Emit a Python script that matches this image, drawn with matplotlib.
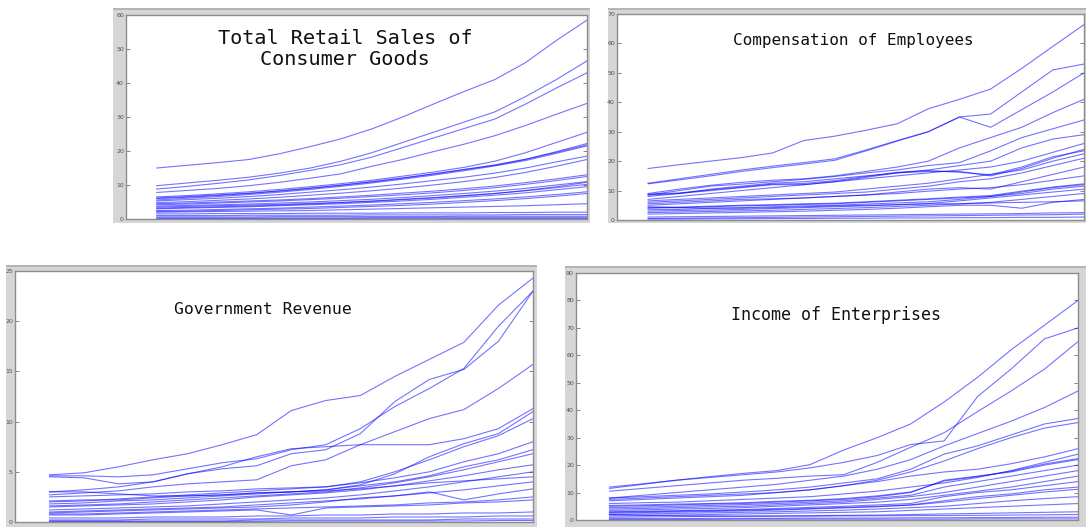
import numpy as np
import matplotlib
matplotlib.use("Agg")
import matplotlib.pyplot as plt
from matplotlib.patches import Rectangle

W, H = 1086, 527
years = np.arange(1, 16)

# Total Retail Sales of Consumer Goods
retail = [
    [15.0, 15.8, 16.6, 17.5, 19.2, 21.3, 23.6, 26.5, 30.0, 33.8, 37.5, 41.0, 46.0, 52.5, 58.5],
    [9.8, 10.6, 11.4, 12.3, 13.5, 15.0, 17.0, 19.5, 22.5, 25.5, 28.5, 31.5, 36.0, 41.0, 46.5],
    [8.8, 9.6, 10.5, 11.5, 12.8, 14.3, 16.0, 18.2, 21.0, 23.8, 26.6, 29.4, 33.8, 38.5, 43.0],
    [7.8, 8.4, 9.0, 9.8, 10.8, 12.0, 13.3, 15.5, 17.5, 19.8, 22.0, 24.5, 27.5, 30.8, 34.0],
    [6.5, 6.9, 7.4, 8.0, 8.7, 9.5, 10.4, 11.4, 12.6, 13.8, 15.2, 17.0, 19.5, 22.5, 25.5],
    [6.0, 6.4, 6.9, 7.5, 8.2, 9.0, 9.9, 10.9, 12.0, 13.2, 14.5, 15.8, 17.5, 19.8, 22.2],
    [6.2, 6.6, 7.1, 7.6, 8.3, 9.1, 10.0, 11.0, 12.1, 13.3, 14.6, 15.9, 17.6, 19.6, 21.8],
    [5.6, 6.1, 6.6, 7.2, 7.9, 8.7, 9.6, 10.6, 11.7, 12.9, 14.2, 15.6, 17.2, 19.3, 21.5],
    [5.3, 5.7, 6.1, 6.6, 7.2, 7.9, 8.6, 9.4, 10.3, 11.3, 12.3, 13.5, 15.0, 16.8, 18.5],
    [4.8, 5.1, 5.5, 5.9, 6.4, 7.0, 7.6, 8.3, 9.1, 10.0, 11.0, 12.2, 13.7, 15.5, 17.5],
    [4.5, 4.7, 5.0, 5.3, 5.6, 6.0, 6.5, 7.0, 7.6, 8.2, 8.9, 9.7, 10.7, 11.8, 13.0],
    [4.2, 4.4, 4.7, 5.0, 5.3, 5.7, 6.1, 6.6, 7.1, 7.7, 8.4, 9.2, 10.2, 11.3, 12.5],
    [3.8, 4.0, 4.2, 4.4, 4.7, 5.0, 5.4, 5.8, 6.3, 6.9, 7.5, 8.2, 9.0, 10.0, 11.0],
    [3.2, 3.4, 3.6, 3.8, 4.1, 4.4, 4.8, 5.2, 5.7, 6.2, 6.8, 7.5, 8.4, 9.5, 10.8],
    [3.5, 3.7, 3.9, 4.1, 4.3, 4.6, 4.9, 5.3, 5.8, 6.3, 6.9, 7.5, 8.3, 9.2, 10.2],
    [3.0, 3.2, 3.4, 3.6, 3.9, 4.2, 4.5, 4.9, 5.3, 5.8, 6.4, 7.0, 7.7, 8.6, 9.5],
    [2.5, 2.6, 2.8, 3.0, 3.2, 3.5, 3.8, 4.1, 4.5, 4.9, 5.4, 5.9, 6.5, 7.2, 8.0],
    [2.2, 2.3, 2.5, 2.7, 2.9, 3.1, 3.4, 3.7, 4.0, 4.4, 4.9, 5.4, 6.0, 6.7, 7.5],
    [2.0, 2.1, 2.2, 2.3, 2.4, 2.5, 2.7, 2.9, 3.1, 3.3, 3.5, 3.7, 3.9, 4.2, 4.5],
    [1.5, 1.5, 1.6, 1.6, 1.6, 1.7, 1.7, 1.7, 1.8, 1.8, 1.8, 1.9, 1.9, 2.0, 2.0],
    [1.0, 1.0, 1.0, 1.1, 1.1, 1.1, 1.1, 1.2, 1.2, 1.2, 1.2, 1.2, 1.3, 1.3, 1.3],
    [0.6, 0.6, 0.6, 0.6, 0.7, 0.7, 0.7, 0.7, 0.7, 0.7, 0.8, 0.8, 0.8, 0.8, 0.8],
    [0.3, 0.3, 0.3, 0.3, 0.3, 0.3, 0.3, 0.4, 0.4, 0.4, 0.4, 0.4, 0.4, 0.4, 0.4],
    [0.1, 0.1, 0.1, 0.1, 0.1, 0.1, 0.1, 0.1, 0.1, 0.1, 0.15, 0.15, 0.15, 0.15, 0.15],
]

# Compensation of Employees
compensation = [
    [17.5, 18.8, 20.0, 21.2, 22.8, 27.0, 28.5, 30.5, 32.7, 37.8, 41.0, 44.5, 51.5, 59.0, 66.4],
    [12.5, 14.0, 15.5, 17.0, 18.3, 19.5, 20.8, 23.8, 27.0, 30.0, 35.0, 36.0, 43.5, 51.0, 53.0],
    [12.3, 13.6, 15.0, 16.5, 17.8, 19.0, 20.3, 23.5, 26.8, 30.0, 35.0, 31.5, 37.5, 43.5, 50.0],
    [9.0, 10.5, 11.8, 12.8, 13.5, 14.0, 15.0, 16.5, 18.0, 20.0, 24.5, 28.0, 31.5, 36.5, 41.0],
    [8.5, 10.0, 11.5, 12.2, 13.0, 13.8, 14.8, 16.0, 17.0, 18.5, 19.5, 23.5, 28.0, 31.0, 34.0],
    [8.0, 9.0, 10.5, 11.5, 12.5, 13.0, 14.0, 15.0, 16.0, 17.0, 18.5, 20.0, 24.5, 27.5, 29.0],
    [7.0, 8.0, 9.0, 10.0, 11.0, 12.0, 13.0, 14.0, 15.0, 16.0, 17.0, 18.0, 20.0, 23.0, 26.0],
    [8.5, 9.0, 10.0, 11.0, 12.0, 12.0, 13.0, 14.5, 16.0, 16.5, 16.5, 15.0, 17.5, 21.0, 24.0],
    [8.8, 9.2, 10.2, 11.2, 12.2, 12.4, 13.4, 14.8, 16.2, 16.8, 16.2, 15.4, 18.0, 21.5, 23.5],
    [6.5, 7.0, 7.5, 8.0, 8.5, 9.0, 9.5, 10.5, 11.5, 12.5, 14.0, 15.5, 17.0, 20.0, 22.5],
    [6.0, 6.5, 7.0, 7.5, 8.0, 8.5, 9.0, 9.5, 10.5, 11.5, 13.0, 14.0, 16.0, 18.5, 21.0],
    [5.0, 5.5, 6.0, 6.5, 7.0, 7.5, 8.0, 8.5, 9.5, 10.5, 11.0, 10.5, 13.0, 15.5, 18.0],
    [5.5, 6.0, 6.5, 7.0, 7.2, 7.5, 8.0, 8.5, 9.0, 9.8, 10.5, 11.0, 12.0, 13.5, 15.0],
    [4.0, 4.2, 4.5, 4.8, 5.0, 5.3, 5.5, 6.0, 6.5, 7.0, 7.5, 8.0, 9.5, 11.0, 12.0],
    [4.2, 4.4, 4.7, 5.0, 5.2, 5.5, 5.7, 6.2, 6.7, 7.2, 7.8, 8.3, 9.8, 11.2, 12.3],
    [3.5, 3.6, 4.0, 4.2, 4.5, 4.8, 5.0, 5.4, 5.8, 6.2, 7.0, 8.0, 9.0, 10.5, 11.5],
    [3.0, 3.2, 3.4, 3.6, 3.9, 4.2, 4.5, 4.8, 5.2, 5.6, 6.5, 7.5, 8.5, 9.5, 10.5],
    [2.5, 2.7, 2.9, 3.1, 3.3, 3.6, 3.9, 4.2, 4.6, 5.0, 5.5, 6.0, 7.0, 8.0, 9.0],
    [2.0, 2.2, 2.4, 2.6, 2.8, 3.0, 3.3, 3.6, 4.0, 4.5, 5.0, 5.0, 4.0, 6.0, 7.0],
    [4.5, 4.2, 4.0, 4.0, 4.2, 4.5, 4.8, 5.0, 5.2, 5.5, 5.5, 5.8, 6.0, 6.2, 6.5],
    [1.0, 1.1, 1.2, 1.3, 1.4, 1.5, 1.6, 1.7, 1.8, 1.9, 2.0, 2.1, 2.2, 2.4, 2.5],
    [0.5, 0.6, 0.7, 0.8, 0.9, 1.0, 1.1, 1.2, 1.3, 1.4, 1.5, 1.6, 1.7, 1.8, 2.0],
    [0.3, 0.3, 0.4, 0.4, 0.5, 0.5, 0.6, 0.6, 0.7, 0.7, 0.8, 0.8, 0.9, 0.9, 1.0],
]

# Government Revenue
revenue = [
    [4.7, 4.9, 5.5, 6.2, 6.8, 7.7, 8.7, 11.1, 12.1, 12.6, 14.5, 16.2, 17.9, 21.6, 24.3],
    [4.5, 4.4, 3.8, 4.0, 4.8, 5.3, 5.6, 6.8, 7.2, 8.8, 12.0, 14.2, 15.2, 18.0, 23.0],
    [4.6, 4.6, 4.5, 4.7, 5.3, 5.9, 6.3, 7.2, 7.7, 9.3, 11.5, 13.3, 15.3, 19.5, 23.0],
    [2.7, 2.9, 3.1, 3.5, 3.8, 4.0, 4.2, 5.6, 6.2, 7.7, 9.0, 10.3, 11.2, 13.3, 15.7],
    [3.0, 3.2, 3.5, 4.0, 4.8, 5.5, 6.5, 7.3, 7.5, 7.7, 7.7, 7.7, 8.3, 9.3, 11.3],
    [2.1, 2.2, 2.2, 2.4, 2.6, 2.7, 2.9, 3.0, 3.2, 3.7, 4.8, 6.5, 7.8, 8.8, 11.0],
    [2.5, 2.6, 2.7, 2.8, 3.0, 3.1, 3.3, 3.4, 3.5, 4.0, 5.0, 6.2, 7.5, 8.6, 10.3],
    [2.0, 2.1, 2.3, 2.5, 2.7, 2.9, 3.1, 3.3, 3.5, 3.9, 4.4, 5.0, 6.0, 6.8, 8.0],
    [1.8, 1.9, 2.1, 2.2, 2.4, 2.6, 2.8, 3.0, 3.2, 3.6, 4.0, 4.6, 5.5, 6.2, 7.2],
    [1.6, 1.7, 1.8, 2.0, 2.2, 2.4, 2.6, 2.8, 3.0, 3.4, 3.9, 4.5, 5.2, 6.0, 6.8],
    [1.5, 1.6, 1.7, 1.8, 2.0, 2.2, 2.5, 2.7, 2.9, 3.2, 3.6, 4.1, 4.6, 5.2, 5.7],
    [1.2, 1.3, 1.4, 1.5, 1.6, 1.8, 2.0, 2.2, 2.4, 2.7, 3.1, 3.5, 4.0, 4.5, 5.0],
    [3.0, 3.0, 2.8, 2.6, 2.6, 2.7, 2.9, 3.0, 3.1, 3.3, 3.6, 3.9, 4.1, 4.3, 4.5],
    [1.0, 1.1, 1.2, 1.3, 1.4, 1.5, 1.7, 1.9, 2.1, 2.3, 2.6, 2.9, 3.2, 3.6, 4.0],
    [0.9, 1.0, 1.1, 1.2, 1.3, 1.4, 1.5, 1.7, 2.0, 2.4, 2.6, 3.0, 2.2, 2.8, 3.3],
    [0.8, 0.8, 0.9, 1.0, 1.1, 1.2, 1.3, 1.4, 1.5, 1.6, 1.7, 1.9, 2.0, 2.2, 2.5],
    [0.7, 0.7, 0.8, 0.9, 1.0, 1.1, 1.2, 0.7, 1.4, 1.5, 1.6, 1.7, 1.9, 2.0, 2.2],
    [0.4, 0.4, 0.4, 0.5, 0.5, 0.5, 0.6, 0.6, 0.7, 0.7, 0.8, 0.8, 0.9, 0.9, 1.0],
    [0.2, 0.2, 0.2, 0.3, 0.3, 0.3, 0.3, 0.4, 0.4, 0.4, 0.5, 0.5, 0.5, 0.6, 0.6],
    [0.1, 0.1, 0.1, 0.1, 0.1, 0.1, 0.2, 0.2, 0.2, 0.2, 0.2, 0.2, 0.3, 0.3, 0.3],
    [0.05, 0.05, 0.05, 0.05, 0.05, 0.05, 0.05, 0.1, 0.1, 0.1, 0.1, 0.1, 0.1, 0.15, 0.15],
]

# Income of Enterprises
income = [
    [12.0, 13.2, 14.5, 15.8, 17.0, 18.0, 20.2, 25.5, 30.0, 35.0, 43.0, 52.0, 62.0, 71.0, 80.0],
    [11.5, 13.0, 14.5, 15.5, 16.5, 17.5, 19.0, 21.0, 23.5, 27.5, 28.8, 45.0, 55.0, 66.0, 70.0],
    [10.5, 11.5, 12.5, 13.5, 14.5, 15.2, 16.0, 16.5, 21.0, 26.5, 31.8, 39.5, 47.0, 55.0, 65.0],
    [8.0, 9.0, 10.0, 11.0, 12.0, 13.0, 14.5, 16.0, 18.5, 22.0, 27.0, 31.5, 36.0, 41.0, 47.0],
    [8.0, 8.5, 9.0, 9.5, 10.2, 11.0, 12.0, 13.5, 15.0, 18.5, 24.0, 27.0, 31.0, 35.0, 37.0],
    [7.5, 8.0, 8.5, 9.0, 9.5, 10.0, 11.0, 12.5, 14.5, 17.5, 21.5, 26.0, 30.0, 33.5, 35.5],
    [7.0, 7.5, 8.0, 8.5, 9.0, 10.0, 11.0, 12.5, 14.0, 16.0, 17.5, 18.5, 20.5, 23.0, 26.0],
    [6.0, 6.3, 6.5, 7.0, 7.5, 8.0, 8.5, 9.5, 10.5, 12.0, 13.5, 15.5, 18.0, 21.0, 24.0],
    [5.0, 5.2, 5.5, 5.8, 6.0, 6.5, 7.0, 7.5, 8.5, 10.0, 14.5, 16.0, 17.5, 20.0, 22.0],
    [5.3, 5.5, 5.8, 6.0, 6.3, 6.8, 7.2, 7.8, 8.8, 10.2, 14.2, 15.8, 17.8, 20.4, 22.4],
    [4.5, 4.7, 5.0, 5.3, 5.6, 6.0, 6.5, 7.0, 8.0, 9.0, 12.0, 14.0, 16.0, 18.0, 20.0],
    [4.0, 4.2, 4.5, 4.8, 5.0, 5.5, 6.0, 6.5, 7.5, 8.5, 10.0, 12.0, 14.0, 16.0, 18.0],
    [3.5, 3.7, 4.0, 4.2, 4.5, 5.0, 5.5, 6.0, 6.5, 7.5, 9.0, 10.5, 12.0, 14.0, 16.0],
    [3.0, 3.2, 3.4, 3.6, 3.8, 4.2, 4.6, 5.0, 5.5, 6.0, 8.5, 10.0, 11.0, 12.5, 14.0],
    [2.5, 2.7, 2.9, 3.1, 3.3, 3.6, 4.0, 4.4, 4.8, 5.5, 7.0, 8.5, 9.5, 11.0, 12.0],
    [2.8, 3.0, 3.2, 3.4, 3.6, 3.9, 4.2, 4.6, 5.0, 5.4, 6.5, 7.8, 9.0, 10.2, 11.2],
    [2.0, 2.2, 2.4, 2.6, 2.8, 3.0, 3.3, 3.6, 4.0, 4.5, 5.0, 6.0, 7.0, 7.8, 8.5],
    [1.5, 1.6, 1.8, 2.0, 2.2, 2.4, 2.6, 2.8, 3.0, 3.5, 4.0, 4.5, 5.0, 5.5, 6.0],
    [1.0, 1.1, 1.2, 1.3, 1.4, 1.5, 1.6, 1.7, 1.8, 2.0, 2.2, 2.4, 2.6, 2.8, 3.0],
    [2.0, 1.8, 1.6, 1.5, 1.4, 1.4, 1.4, 1.5, 1.5, 1.6, 1.6, 1.7, 1.8, 1.9, 2.0],
    [0.5, 0.5, 0.5, 0.6, 0.6, 0.6, 0.7, 0.7, 0.7, 0.8, 0.8, 0.9, 0.9, 1.0, 1.0],
    [0.2, 0.2, 0.2, 0.2, 0.3, 0.3, 0.3, 0.3, 0.3, 0.3, 0.3, 0.4, 0.4, 0.4, 0.4],
]

titles = ["Total Retail Sales of\nConsumer Goods", "Compensation of Employees",
          "Government Revenue", "Income of Enterprises"]
ymax = [60, 70, 25, 90]
ystep = [10, 10, 5, 10]

# pixel boxes: gray window (x0, y0, x1, y1) and axes (x0, y0, x1, y1)
windows = [(113, 8, 590, 223), (608, 8, 1086, 223), (6, 265, 537, 527), (565, 266, 1086, 527)]
axboxes = [(126, 15, 587, 219), (617, 14, 1084, 220), (15, 271, 533, 522), (576, 273, 1078, 520)]
title_pos = [(345, 49), (853, 41), (263, 310), (836, 315)]
title_size = [14.5, 11.5, 11.8, 12.0]

fig = plt.figure(figsize=(W / 100, H / 100), dpi=100)


def px(box):
    x0, y0, x1, y1 = box
    return [x0 / W, 1 - y1 / H, (x1 - x0) / W, (y1 - y0) / H]


for data, title, top, step, win, box, tp, ts in zip(
        [retail, compensation, revenue, income], titles, ymax, ystep,
        windows, axboxes, title_pos, title_size):
    l, b, w, h = px(win)
    fig.patches.append(Rectangle((l, b), w, h, transform=fig.transFigure,
                                 facecolor="#d6d6d6", edgecolor="none", zorder=-2))
    fig.patches.append(Rectangle((l, b + h - 2 / H), w, 2 / H, transform=fig.transFigure,
                                 facecolor="#b4b4b4", edgecolor="none", zorder=-1))
    ax = fig.add_axes(px(box))
    ax.set_facecolor("white")
    for s in data:
        ax.plot(years, s, color="#0000ff", lw=0.8, alpha=0.55)
    ax.set_xlim(0, 15)
    ax.set_ylim(0, top)
    ax.set_yticks(np.arange(0, top + 1, step))
    ax.set_xticks([])
    ax.tick_params(axis="y", direction="in", length=3, width=0.6, labelsize=4.5,
                   pad=1.5, right=True, colors="#707070", labelcolor="#505050")
    for sp in ax.spines.values():
        sp.set_color("#8c8c8c")
        sp.set_linewidth(1.0)
    fig.text(tp[0] / W, 1 - tp[1] / H, title, ha="center", va="center",
             family="DejaVu Sans Mono", fontsize=ts, color="#111111", linespacing=1.1)

fig.savefig("out.png", dpi=100)
